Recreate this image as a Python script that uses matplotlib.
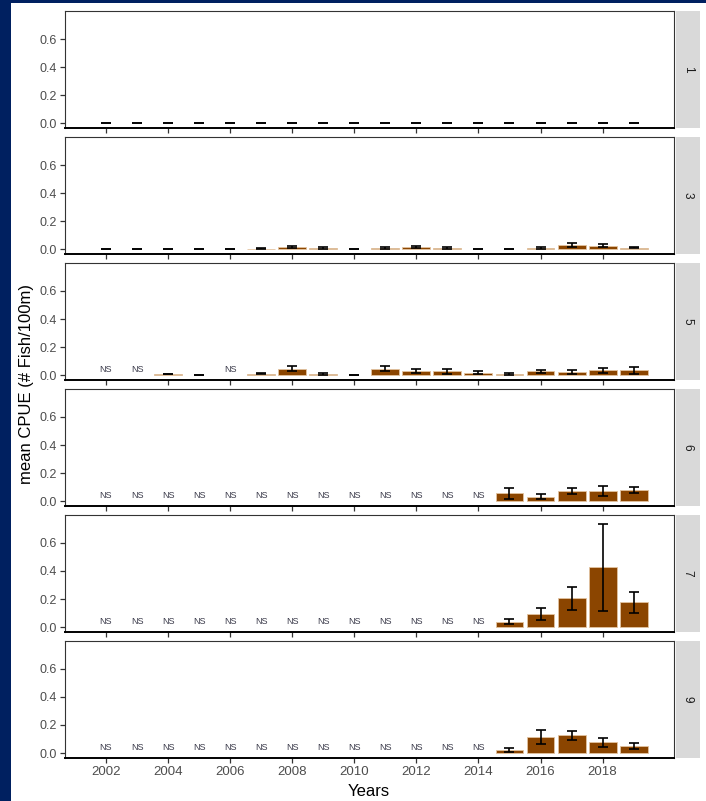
import matplotlib
matplotlib.use("Agg")
import matplotlib.pyplot as plt
from matplotlib.patches import Rectangle

plt.rcParams["font.family"] = ["Liberation Sans", "DejaVu Sans"]

years = list(range(2002, 2020))
panels = ["1", "3", "5", "6", "7", "9"]

# None = not sampled (NS)
mean_1 = [0.003, 0, 0, 0, 0, 0, 0, 0, 0, 0, 0.003, 0, 0, 0, 0, 0.003, 0, 0]
se_1 = [0.002, 0, 0, 0, 0, 0, 0, 0, 0, 0, 0.002, 0, 0, 0, 0, 0.002, 0, 0]

mean_3 = [0.003, 0.001, 0.001, 0.003, 0.001, 0.005, 0.015, 0.008, 0.001, 0.008,
          0.015, 0.010, 0.001, 0.003, 0.010, 0.029, 0.026, 0.012]
se_3 = [0.002, 0, 0, 0.002, 0, 0.002, 0.008, 0.008, 0, 0.008,
        0.008, 0.009, 0, 0.002, 0.009, 0.014, 0.012, 0.006]

mean_5 = [None, None, 0.008, 0.003, None, 0.012, 0.047, 0.010, 0.003, 0.047,
          0.030, 0.028, 0.018, 0.010, 0.028, 0.024, 0.034, 0.034]
se_5 = [None, None, 0.002, 0.002, None, 0.006, 0.018, 0.005, 0.002, 0.018,
        0.017, 0.020, 0.012, 0.009, 0.013, 0.016, 0.020, 0.022]

mean_6 = [None] * 13 + [0.055, 0.033, 0.071, 0.071, 0.079]
se_6 = [None] * 13 + [0.040, 0.018, 0.020, 0.034, 0.024]

mean_7 = [None] * 13 + [0.038, 0.095, 0.205, 0.426, 0.176]
se_7 = [None] * 13 + [0.019, 0.042, 0.083, 0.310, 0.072]

mean_9 = [None] * 13 + [0.024, 0.114, 0.126, 0.076, 0.050]
se_9 = [None] * 13 + [0.013, 0.049, 0.030, 0.030, 0.021]

means = [mean_1, mean_3, mean_5, mean_6, mean_7, mean_9]
ses = [se_1, se_3, se_5, se_6, se_7, se_9]

yticks = [0.0, 0.2, 0.4, 0.6]
xticks = list(range(2002, 2019, 2))

bar_color = "#8B4500"
edge_color = "#E3C3A0"
navy = "#002060"

W, H = 706, 801
fig = plt.figure(figsize=(W / 100, H / 100), dpi=100)
fig.patch.set_facecolor("white")

# navy frame (left and top)
fig.patches.append(Rectangle((0, 0), 11 / W, 1, transform=fig.transFigure,
                             facecolor=navy, edgecolor="none", zorder=0))
fig.patches.append(Rectangle((0, 1 - 3 / H), 1, 3 / H, transform=fig.transFigure,
                             facecolor=navy, edgecolor="none", zorder=0))

left = 65 / W
right = 674 / W
top_px, h_px, gap_px = 11, 117.3, 8.64

for i, name in enumerate(panels):
    y0 = top_px + i * (h_px + gap_px)
    ax = fig.add_axes([left, 1 - (y0 + h_px) / H, right - left, h_px / H])
    m = means[i]
    s = ses[i]
    xs = [y for y, v in zip(years, m) if v is not None]
    vals = [v for v in m if v is not None]
    errs = [e for v, e in zip(m, s) if v is not None]
    edges = [edge_color if v > 0.004 else "none" for v in vals]
    ax.bar(xs, vals, width=0.9, color=bar_color, edgecolor=edges,
           linewidth=0.6, zorder=2)
    ax.errorbar(xs, vals, yerr=errs, fmt="none", ecolor="black",
                elinewidth=1.2, capsize=3.3, capthick=1.2, zorder=3)
    for y, v in zip(years, m):
        if v is None:
            ax.text(y, 0.04, "NS", ha="center", va="center", fontsize=6.5,
                    color="#3a3a4a", zorder=4)
    ax.set_xlim(2000.68, 2020.3)
    ax.set_ylim(-0.035, 0.80)
    ax.set_yticks(yticks)
    ax.set_yticklabels([f"{t:.1f}" for t in yticks], fontsize=9, color="#4d4d4d")
    ax.set_xticks(xticks)
    if i == len(panels) - 1:
        ax.set_xticklabels([str(t) for t in xticks], fontsize=9.5, color="#4d4d4d")
    else:
        ax.set_xticklabels([])
        ax.tick_params(axis="x", length=0)
    ax.tick_params(axis="both", direction="out", length=3.5, width=0.9,
                   color="#333333", pad=2)
    for side in ["top", "left", "right"]:
        ax.spines[side].set_color("#333333")
        ax.spines[side].set_linewidth(0.8)
    ax.spines["bottom"].set_color("black")
    ax.spines["bottom"].set_linewidth(1.4)
    # facet strip on the right
    sw = 24 / (W * (right - left))
    ax.add_patch(Rectangle((1.003, 0), sw, 1, transform=ax.transAxes,
                           facecolor="#D9D9D9", edgecolor="none", clip_on=False))
    ax.text(1.003 + sw / 2, 0.5, name, transform=ax.transAxes, rotation=-90,
            ha="center", va="center", fontsize=8.5, color="#1a1a1a")

fig.text((65 + 673) / 2 / W, 1 - 791 / H, "Years", ha="center", va="center",
         fontsize=12, color="black")
fig.text(27 / W, 1 - (11 + 758) / 2 / H, "mean CPUE (# Fish/100m)", rotation=90,
         ha="center", va="center", fontsize=12, color="black")

fig.savefig("out.png", dpi=100, facecolor=fig.get_facecolor())
